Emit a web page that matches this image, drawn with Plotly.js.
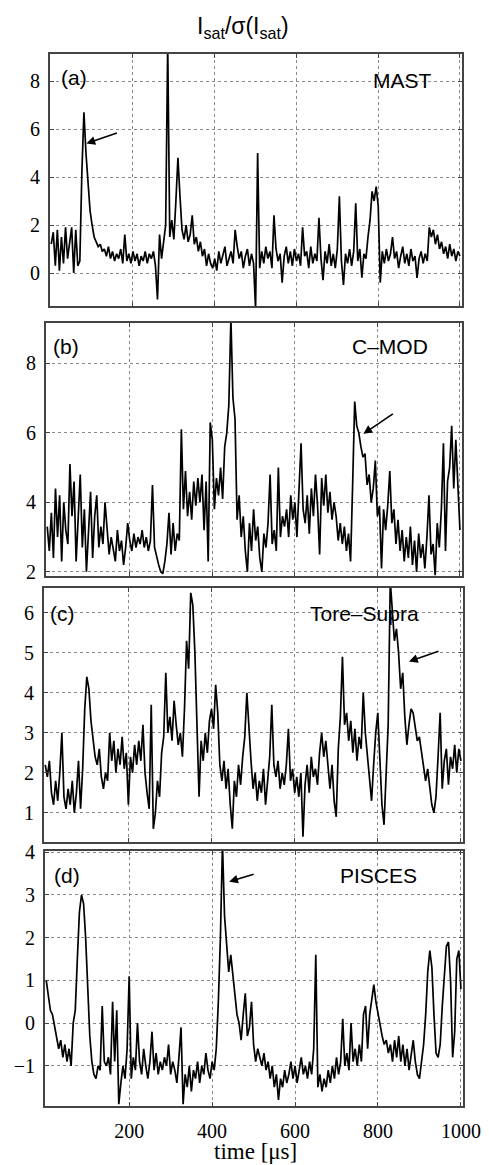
<!DOCTYPE html>
<html>
<head>
<meta charset="utf-8">
<script src="https://cdn.plot.ly/plotly-3.0.1.min.js"></script>
<style>html,body{margin:0;padding:0;background:#fff;}#chart{width:489px;height:1165px;}</style>
</head>
<body>
<div id="chart"></div>
<script>
// sampling step of the traces (microseconds)
const dtMicro = 5;

// (a) MAST  I_sat / sigma(I_sat)
const mast = [
 1.2, 1.7, 0.3, 1.8, 0.1, 1.5, 0.4, 1.9, 0.6, 1.3,
 1.9, 0.0, 1.8, 0.3, 0.5, 4.2, 6.7, 5.0, 3.6, 2.6,
 2.0, 1.5, 1.3, 1.1, 1.2, 0.9, 1.0, 0.7, 1.1, 0.6,
 0.9, 0.5, 0.8, 0.6, 1.0, 0.4, 1.6, 0.5, 0.8, 0.4,
 0.9, 0.5, 0.8, 0.3, 0.7, 0.5, 0.9, 0.4, 0.8, 0.6,
 0.9, 0.3, -1.1, 1.6, 0.6, 1.2, 2.0, 9.5, 1.5, 2.2,
 1.4, 3.0, 4.8, 3.2, 1.8, 1.4, 2.0, 1.3, 1.6, 2.4,
 1.2, 1.5, 0.9, 1.3, 0.7, 1.0, 0.3, 0.8, 0.4, 0.2,
 0.6, 0.1, 0.9, 0.4, 0.7, 1.1, 0.3, 0.6, 0.9, 0.4,
 1.8, 1.1, 0.6, 0.9, 0.2, 0.7, 1.0, 0.3, 0.8, 0.4,
 -1.5, 5.0, 0.2, 0.9, 0.4, 1.1, 0.6, 0.9, 0.2, 2.4,
 1.0, 0.5, 0.8, -0.4, 0.7, 1.1, 0.4, 0.9, 0.3, 1.0,
 0.5, 0.8, 0.3, 1.9, 0.7, 0.9, 0.2, 1.1, 0.4, 0.8,
 0.5, 2.3, 0.6, -0.3, 0.9, 0.4, 1.2, 0.3, 0.8, 0.2,
 1.0, 3.2, 0.5, -0.5, 0.8, 0.4, 1.0, 0.3, 0.9, 2.9,
 0.5, 1.0, -0.2, 0.8, 0.6, 1.5, 2.2, 3.4, 3.0, 3.6,
 2.8, -0.4, 0.9, 0.4, 1.0, 0.5, 0.8, 1.5, 0.6, 0.9,
 0.2, 0.7, 1.1, 0.4, 0.8, 0.3, 1.0, 0.5, 0.7, -0.2,
 0.6, 0.9, 0.4, 0.8, 0.5, 1.9, 1.5, 1.8, 1.2, 1.6,
 1.0, 1.3, 0.8, 1.1, 0.6, 1.2, 0.7, 1.0, 0.5, 0.9,
 0.7
];

// (b) C-MOD
const cmod = [
 3.3, 2.6, 3.7, 2.4, 4.4, 3.0, 4.2, 2.3, 4.0, 3.2,
 2.8, 5.1, 3.6, 4.6, 2.3, 3.5, 4.8, 2.7, 3.8, 2.0,
 3.1, 4.3, 2.4, 3.6, 4.2, 2.7, 3.3, 2.8, 4.0, 3.1,
 2.5, 3.0, 2.7, 2.3, 3.2, 2.6, 2.9, 2.2, 2.7, 3.4,
 2.9, 2.6, 3.1, 2.7, 3.0, 2.8, 3.2, 2.7, 3.0, 2.6,
 2.9, 4.5, 2.7, 2.4, 2.2, 2.0, 1.95, 2.3, 2.8, 3.7,
 2.5, 3.4, 2.6, 3.1, 2.9, 6.1, 3.8, 4.9, 3.6, 4.3,
 3.5, 4.6, 3.9, 4.7, 4.0, 4.8, 3.2, 4.6, 2.3, 6.3,
 5.8, 3.8, 4.7, 4.2, 5.0, 4.1, 5.6, 6.0, 6.8, 9.3,
 7.0, 6.4, 3.5, 4.2, 3.0, 3.6, 2.6, 2.0, 3.4, 2.6,
 3.8, 2.9, 3.3, 2.4, 2.0, 3.1, 2.7, 3.4, 4.8, 2.8,
 3.2, 2.6, 5.0, 3.0, 3.6, 3.3, 3.8, 3.0, 4.2, 3.5,
 4.0, 3.0, 4.3, 5.7, 3.8, 3.4, 4.2, 3.1, 4.4, 3.6,
 4.8, 3.9, 2.5, 4.7, 3.9, 4.8, 3.7, 4.3, 3.5, 4.0,
 3.6, 2.9, 3.4, 2.8, 3.3, 2.6, 3.1, 2.3, 4.5, 6.9,
 6.2, 6.0, 5.6, 5.3, 5.4, 4.5, 4.8, 4.0, 4.4, 5.2,
 3.6, 3.9, 2.1, 3.8, 3.2, 3.9, 4.9, 3.4, 3.8, 2.8,
 3.5, 2.6, 3.2, 2.3, 3.0, 2.4, 3.3, 2.2, 2.9, 2.0,
 3.1, 2.4, 2.8, 2.1, 3.0, 4.2, 2.5, 2.8, 1.9, 3.4,
 2.7, 3.8, 5.7, 2.6, 4.6, 5.0, 6.2, 4.4, 5.8, 4.5,
 3.2
];

// (c) Tore-Supra
const toreSupra = [
 2.2, 1.9, 2.3, 1.5, 1.2, 1.8, 1.3, 2.0, 3.0, 1.4,
 1.1, 1.6, 1.2, 1.8, 1.0, 1.5, 2.3, 1.1, 2.1, 3.6,
 4.4, 4.1, 3.3, 2.8, 2.4, 2.2, 2.6, 1.9, 1.6, 2.0,
 1.8, 3.0, 2.3, 2.8, 2.0, 2.6, 2.2, 2.9, 2.1, 2.5,
 1.2, 2.4, 2.0, 2.7, 2.2, 2.8, 2.3, 3.2, 2.0, 1.5,
 1.1, 3.7, 0.6, 1.0, 1.8, 1.4, 2.5, 2.9, 4.5, 3.0,
 3.4, 2.8, 3.8, 3.2, 2.7, 3.0, 2.4, 3.6, 5.3, 4.6,
 6.5, 6.2, 5.0, 3.2, 1.4, 2.8, 2.3, 3.0, 2.5, 3.3,
 3.6, 3.1, 4.2, 3.5, 2.2, 1.8, 2.3, 1.6, 2.1, 1.2,
 0.6, 1.8, 1.4, 2.2, 1.7, 2.4, 2.9, 4.0, 3.0, 2.3,
 1.6, 2.0, 1.3, 1.8, 1.5, 2.1, 1.2, 1.9, 2.4, 3.7,
 2.2, 1.9, 2.3, 1.6, 2.0, 1.7, 2.2, 3.1, 1.8, 2.1,
 1.5, 1.9, 1.4, 2.0, 0.4, 1.7, 2.2, 1.5, 2.4, 1.9,
 2.1, 1.7, 2.5, 3.0, 2.4, 2.8, 2.1, 1.6, 2.2, 1.3,
 0.9, 2.6, 3.4, 4.9, 3.2, 3.5, 2.8, 3.3, 2.5, 3.1,
 2.3, 2.9, 2.6, 4.0, 3.0, 2.4, 2.0, 1.3, 2.2, 3.0,
 3.5, 2.2, 1.2, 0.7, 1.8, 3.2, 6.8, 5.9, 5.3, 5.6,
 5.0, 4.1, 4.5, 3.4, 2.7, 3.2, 3.6, 3.5, 3.1, 2.8,
 2.9, 2.5, 2.2, 1.8, 2.1, 1.6, 1.2, 1.0, 1.4, 2.4,
 3.5, 1.6, 2.3, 2.6, 1.7, 2.4, 2.1, 2.7, 2.0, 2.6,
 2.3
];

// (d) PISCES
const pisces = [
 1.0, 0.6, 0.3, 0.2, -0.1, -0.3, -0.6, -0.4, -0.8, -0.5,
 -0.9, -0.6, -1.0, 0.0, 0.3, 1.5, 2.6, 3.0, 2.8, 2.0,
 0.8, -0.3, -0.9, -1.2, -1.3, -1.0, -1.1, 0.4, -0.9, -1.0,
 -0.8, -1.2, 0.5, -0.9, 0.3, -1.9, -1.4, -1.0, -1.3, -0.6,
 1.1, -1.3, -0.8, -1.1, 0.0, -0.9, -1.2, -0.6, -1.0, -1.3,
 -0.9, -0.2, -1.1, -0.7, -1.2, -0.9, -1.1, -0.8, -1.0, -0.5,
 -1.2, -0.9, -1.1, -1.4, -0.8, -0.1, -1.9, -1.2, -1.5, -1.0,
 -1.6, -1.1, -1.3, -0.9, -1.4, -1.0, -1.2, -0.7, -1.1, -1.3,
 -0.9, -1.1, -0.6, 0.5, 2.0, 4.2, 2.5, 1.8, 1.2, 1.6,
 1.1, 0.6, 0.2, 0.0, -0.4, 0.2, 0.7, -0.3, -0.1, 0.5,
 -0.5, -0.9, -0.6, -0.8, -1.0, -0.7, -1.1, -0.9, -1.3, -1.0,
 -1.5, -1.2, -1.8, -1.3, -1.5, -1.1, -1.4, -1.2, -0.9, -1.3,
 -1.0, -1.4, -1.1, -0.8, -1.2, -1.0, -1.3, -0.9, -1.2, -0.6,
 1.6, -1.5, -1.2, -1.6, -1.3, -1.5, -1.1, -1.4, -1.0, -1.3,
 -0.8, -1.2, -0.9, 0.1, -1.0, -0.7, -1.1, 0.0, -0.9, -0.6,
 -1.0, -0.5, -0.9, 0.2, 0.4, -0.6, 0.2, 0.6, 0.9, 0.5,
 0.2, -0.1, -0.3, -0.5, -0.4, -0.7, -0.5, -0.9, -0.4, -0.8,
 -0.3, -0.9, -0.5, -1.0, -0.6, -1.1, -0.7, -0.4, -0.9, -1.2,
 -1.3, -0.9, -0.5, 0.2, 1.2, 1.7, 1.3, 0.2, -0.7, -0.8,
 -0.5, 0.4, 1.2, 1.8, 1.9, 1.0, -0.8, -0.2, 1.5, 1.7,
 0.8
];

const seriesList = [mast, cmod, toreSupra, pisces];
const panelLetters = ['(a)', '(b)', '(c)', '(d)'];
const deviceNames = ['MAST', 'C–MOD', 'Tore–Supra', 'PISCES'];
const yTicks = [[0, 2, 4, 6, 8], [2, 4, 6, 8], [1, 2, 3, 4, 5, 6], [-1, 0, 1, 2, 3, 4]];
const yRanges = [[-1.375, 9.125], [1.88, 9.16], [0.27, 6.62], [-1.94, 4.03]];
const xTicks = [200, 400, 600, 800, 1000];
const yTitle = 'I<sub>sat</sub>/σ(I<sub>sat</sub>)';
const xTitle = 'time [μs]';
// arrow targets: [time, value]
const arrowTargets = [[86, 5.4], [766, 5.97], [875, 4.78], [441, 3.31]];

const time = mast.map((_, i) => i * dtMicro);

// ---- layout geometry (pixels) ----
const W = 489, H = 1165, ML = 44, MR = 26, MT = 54, MB = 59;
const PW = W - ML - MR, PH = H - MT - MB;
const px2x = p => (p - ML) / PW;
const px2y = p => 1 - (p - MT) / PH;
const boxes = [  // [left, right, top, bottom] in pixels
  [50, 462, 54, 306],
  [46, 462, 323, 576],
  [44, 463, 588, 842],
  [45, 463, 851, 1106]
];
const letterPos = [[74, 78], [66, 347], [62, 613], [67, 875]];
const namePos = [[402, 81], [390, 347], [364, 613], [378, 875]];
const arrowTail = [[32, -11], [31, -21], [31, -11], [26, -8]];

const tickFont = {family: 'Liberation Serif, Times New Roman, serif', size: 20, color: '#000'};
const labFont = {family: 'Liberation Sans, Arial, sans-serif', size: 21, color: '#000'};

const data = [];
const layout = {
  width: W, height: H,
  margin: {l: ML, r: MR, t: MT, b: MB, pad: 0},
  paper_bgcolor: '#fff', plot_bgcolor: '#fff',
  showlegend: false,
  annotations: []
};

seriesList.forEach((vals, k) => {
  const n = k === 0 ? '' : String(k + 1);
  data.push({
    x: time, y: vals, type: 'scatter', mode: 'lines',
    xaxis: 'x' + n, yaxis: 'y' + n,
    line: {color: '#000', width: 1.7},
    hoverinfo: 'skip'
  });
  const b = boxes[k];
  const common = {
    showline: true, mirror: 'ticks', linecolor: '#444', linewidth: 2,
    ticks: 'inside', ticklen: 4, tickcolor: '#444',
    showgrid: true, gridcolor: '#8a8a8a', griddash: 'dot', gridwidth: 1,
    zeroline: false, tickfont: tickFont, fixedrange: true
  };
  layout['xaxis' + n] = Object.assign({}, common, {
    domain: [Math.max(0, px2x(b[0])), Math.min(1, px2x(b[1]))],
    range: [-3, 1005], anchor: 'y' + n,
    tickvals: xTicks, showticklabels: k === 3, ticklabelstandoff: 6
  });
  layout['yaxis' + n] = Object.assign({}, common, {
    domain: [Math.max(0, px2y(b[3])), Math.min(1, px2y(b[2]))],
    range: yRanges[k], anchor: 'x' + n,
    tickvals: yTicks[k], ticktext: yTicks[k].map(v => v < 0 ? '−' + Math.abs(v) : String(v)),
    ticklabelstandoff: 4
  });
  layout.annotations.push({
    xref: 'paper', yref: 'paper', x: px2x(letterPos[k][0]), y: px2y(letterPos[k][1]),
    text: panelLetters[k], showarrow: false, font: labFont, xanchor: 'center', yanchor: 'middle'
  });
  layout.annotations.push({
    xref: 'paper', yref: 'paper', x: px2x(namePos[k][0]), y: px2y(namePos[k][1]),
    text: deviceNames[k], showarrow: false, font: labFont, xanchor: 'center', yanchor: 'middle'
  });
  layout.annotations.push({
    xref: 'x' + n, yref: 'y' + n, x: arrowTargets[k][0], y: arrowTargets[k][1],
    text: '', showarrow: true, arrowhead: 2, arrowsize: 1.1, arrowwidth: 1.6,
    arrowcolor: '#000', ax: arrowTail[k][0], ay: arrowTail[k][1]
  });
});

layout.annotations.push({
  xref: 'paper', yref: 'paper', x: px2x(243), y: px2y(27),
  text: yTitle, showarrow: false, xanchor: 'center', yanchor: 'middle',
  font: {family: 'Liberation Sans, Arial, sans-serif', size: 23, color: '#000'}
});
layout.annotations.push({
  xref: 'paper', yref: 'paper', x: px2x(256), y: px2y(1151),
  text: xTitle, showarrow: false, xanchor: 'center', yanchor: 'middle',
  font: {family: 'Liberation Serif, Times New Roman, serif', size: 23, color: '#000'}
});

Plotly.newPlot('chart', data, layout, {displayModeBar: false, staticPlot: true});
</script>
</body>
</html>
